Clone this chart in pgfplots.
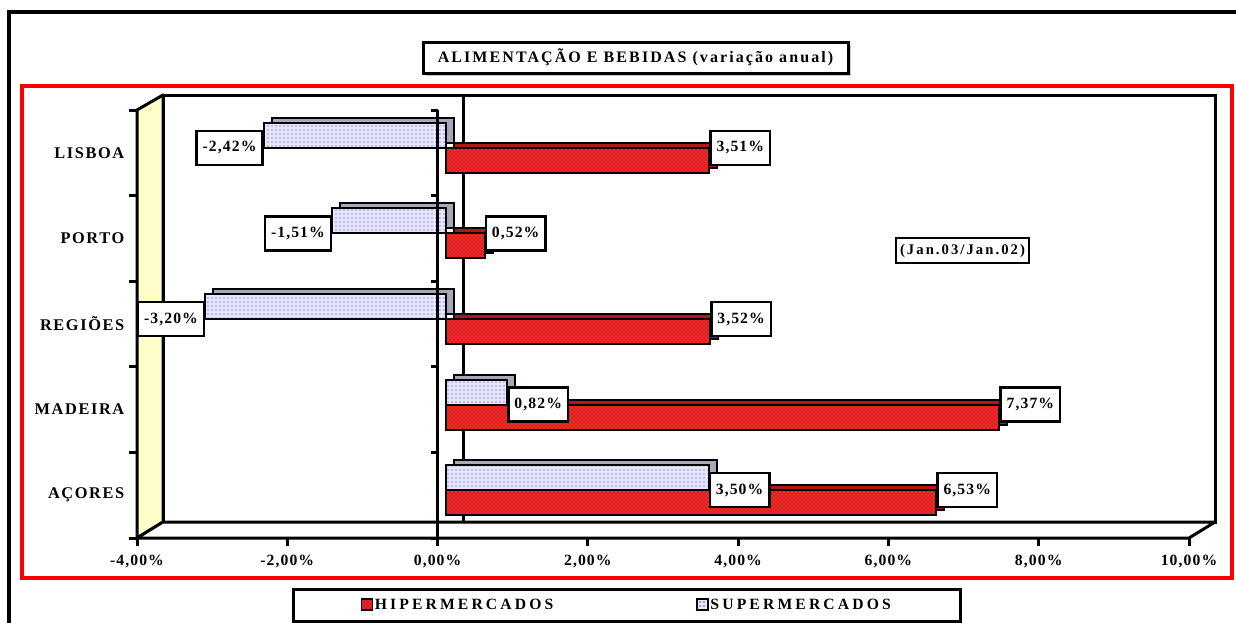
\documentclass[border=0pt]{standalone}
\usepackage{fontspec}
\usepackage{pgfplots}
\pgfplotsset{compat=1.18}
\usepackage{pgfplotstable}
\usetikzlibrary{patterns}
\setmainfont{Liberation Serif}
\newfontfamily\fA{Liberation Serif Bold}[LetterSpace=7]
\newfontfamily\fB{Liberation Serif Bold}[LetterSpace=10]
\newfontfamily\fC{Liberation Serif Bold}[LetterSpace=13]
\newfontfamily\fE{Liberation Serif Bold}[LetterSpace=14]
\newfontfamily\fD{Liberation Serif Bold}[LetterSpace=20]

\definecolor{hiper}{HTML}{F22A2A}
\definecolor{hiperdark}{HTML}{8A0000}
\definecolor{hipertop}{HTML}{B01818}
\definecolor{supfill}{HTML}{E6E6FF}
\definecolor{supdot}{HTML}{3030E8}
\definecolor{suptop}{HTML}{A8A8B8}
\definecolor{wall}{HTML}{FFFFCC}
\definecolor{redframe}{HTML}{FF0000}

\pgfplotstableread{
y hiper super
5 3.51 -2.42
4 0.52 -1.51
3 3.52 -3.20
2 7.37 0.82
1 6.53 3.50
}\datatable

\begin{document}
\begin{tikzpicture}
\begin{scope}[x=0.75pt,y=-0.75pt]
\useasboundingbox (0,0) rectangle (1236,622);
% outer frame
\draw[line width=3pt] (9,630) -- (9,12) -- (1240,12);
% title box
\fill[gray!45] (426,45) rectangle (851,76);
\draw[line width=2.25pt, fill=white] (423,42) rectangle (848,73);
\node[font=\fC\fontsize{12}{13}\selectfont] at (635.5,57.5) {ALIMENTAÇÃO E BEBIDAS (variação anual)};
% red frame
\draw[redframe, line width=2.5pt] (22,86) rectangle (1232,578);
% back wall
\draw[line width=2.25pt, fill=white] (163,95) rectangle (1215,522);
% left wall
\draw[line width=2.25pt, fill=wall, line join=round] (137,110) -- (163,95) -- (163,522) -- (137,538) -- cycle;
% floor
\draw[line width=2.25pt, fill=white, line join=round] (137,538) -- (163,522) -- (1215,522) -- (1189,538) -- cycle;
% back zero line
\draw[line width=2.25pt] (463.6,95) -- (463.6,522);
% period box
\node[draw, line width=0.9pt, fill=white, inner xsep=3pt, minimum height=18.75pt, font=\fE\fontsize{11}{12}\selectfont] at (962.5,250.5) {(Jan.03/Jan.02)};
% legend box
\draw[line width=2.25pt, fill=white] (293,589) rectangle (960,621);
\end{scope}

% bar plane axis
\begin{axis}[
  at={(108.75pt,-399.75pt)}, anchor=south west,
  scale only axis, width=789pt, height=321pt,
  xmin=-4, xmax=10, ymin=0.5, ymax=5.5,
  hide axis, clip=false,
  legend style={at={(0.4577,-0.168)}, anchor=center, draw=none, fill=none,
    legend columns=2, font=\fD\fontsize{11.75}{12}\selectfont,
    nodes={inner xsep=1.2pt},
    /tikz/every even column/.append style={column sep=106pt}},
  legend cell align=left,
]
% hiper extrusion
\addplot[xbar, bar width=18.75pt, bar shift=-9.375pt, xshift=6pt, yshift=3.75pt,
  draw=black, line width=1.5pt, fill=hipertop, forget plot]
  table[x=hiper, y=y] {\datatable};
% hiper face
\addplot[xbar, bar width=18.75pt, bar shift=-9.375pt,
  draw=black, line width=1.5pt, fill=hiper,
  postaction={pattern=crosshatch dots, pattern color=hiperdark},
  legend image code/.code={\draw[line width=1.2pt, fill=hiper, postaction={pattern=crosshatch dots, pattern color=hiperdark}] (0pt,-4pt) rectangle (8.25pt,4.25pt);}]
  table[x=hiper, y=y] {\datatable};
\addlegendentry{HIPERMERCADOS}
% super extrusion
\addplot[xbar, bar width=18.75pt, bar shift=9.375pt, xshift=6pt, yshift=3.75pt,
  draw=black, line width=1.5pt, fill=suptop, forget plot]
  table[x=super, y=y] {\datatable};
% super face
\addplot[xbar, bar width=18.75pt, bar shift=9.375pt,
  draw=black, line width=1.5pt, fill=supfill,
  postaction={pattern=dots, pattern color=supdot},
  legend image code/.code={\draw[line width=1.2pt, fill=supfill, postaction={pattern=dots, pattern color=supdot}] (0pt,-4pt) rectangle (8.25pt,4.25pt);}]
  table[x=super, y=y] {\datatable};
\addlegendentry{SUPERMERCADOS}
% value labels
\pgfplotsset{lblstyle/.style={xbar, bar width=18.75pt, draw=none, fill=none, forget plot,
  point meta=x,
  nodes near coords={\pgfmathprintnumber[fixed,fixed zerofill,precision=2,use comma,assume math mode=true]{\pgfplotspointmeta}\%},
  nodes near coords align=horizontal,
  every node near coord/.append style={draw=black, line width=1.9pt, fill=white, text=black,
    font=\fA\fontsize{11.75}{12}\selectfont, minimum height=25.5pt, inner xsep=4.5pt}}}
\addplot[lblstyle, bar shift=-9.375pt] table[x=hiper, y=y] {\datatable};
\addplot[lblstyle, bar shift=9.375pt] table[x=super, y=y] {\datatable};
\end{axis}

% front plane axis (ticks, labels, zero line)
\begin{axis}[
  at={(102.75pt,-403.5pt)}, anchor=south west,
  scale only axis, width=789pt, height=321pt,
  xmin=-4, xmax=10, ymin=0.5, ymax=5.5,
  axis line style={draw=none}, clip=false,
  xtick={-4,-2,0,2,4,6,8,10},
  xticklabels={{-4,00\%},{-2,00\%},{0,00\%},{2,00\%},{4,00\%},{6,00\%},{8,00\%},{10,00\%}},
  ytick={0.5,1.5,2.5,3.5,4.5,5.5}, yticklabels={},
  tick align=outside, tick pos=left, major tick length=6pt,
  every tick/.style={black, line width=2.25pt},
  xticklabel style={font=\fA\fontsize{11.75}{12}\selectfont, yshift=-3.5pt},
  extra y ticks={1,2,3,4,5},
  extra y tick labels={AÇORES,MADEIRA,REGIÕES,PORTO,LISBOA},
  extra y tick style={major tick length=0pt,
    yticklabel style={font=\fB\fontsize{12.25}{13}\selectfont, xshift=-6pt}},
]
\draw[line width=2.25pt] (axis cs:0,0.5) -- (axis cs:0,5.5);
\pgfplotsinvokeforeach{0.5,1.5,2.5,3.5,4.5,5.5}{
  \draw[line width=2.25pt] (axis cs:0,#1) -- ++(-5pt,0pt);
}
\end{axis}
\end{tikzpicture}
\end{document}
